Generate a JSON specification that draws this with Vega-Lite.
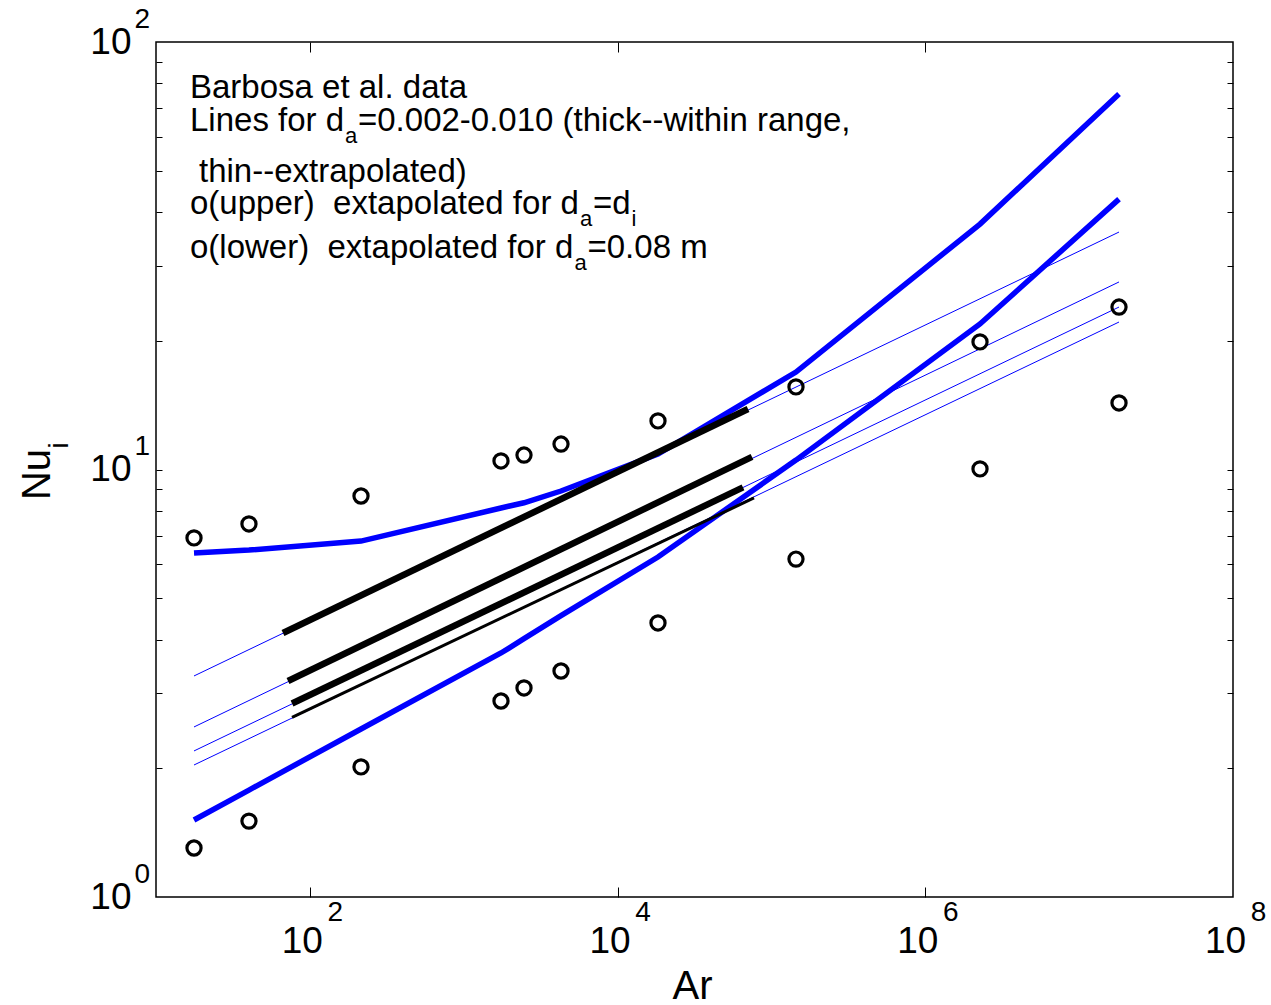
{
  "$schema": "https://vega.github.io/schema/vega-lite/v6.json",
  "width": 1077,
  "height": 855,
  "autosize": {"type": "none"},
  "padding": {"left": 156, "top": 42, "right": 38, "bottom": 108},
  "background": "white",
  "config": {
    "view": {"stroke": "black", "strokeWidth": 1.5},
    "axis": {
      "grid": false, "domain": false,
      "labelFont": "Liberation Sans", "titleFont": "Liberation Sans",
      "labelColor": "black", "titleColor": "black", "tickColor": "black",
      "titleFontWeight": "normal", "labelFlush": false, "labelOverlap": false
    },
    "text": {"font": "Liberation Sans", "color": "black"}
  },
  "datasets": {
    "points": [
      {"x": 17.66, "y": 6.917}, {"x": 17.66, "y": 1.302},
      {"x": 40.2, "y": 7.457}, {"x": 40.2, "y": 1.505},
      {"x": 215, "y": 8.67}, {"x": 215, "y": 2.015},
      {"x": 1747, "y": 10.47}, {"x": 1747, "y": 2.874},
      {"x": 2465, "y": 10.81}, {"x": 2465, "y": 3.083},
      {"x": 4289, "y": 11.47}, {"x": 4289, "y": 3.378},
      {"x": 18310, "y": 12.99}, {"x": 18310, "y": 4.375},
      {"x": 144400, "y": 15.6}, {"x": 144400, "y": 6.173},
      {"x": 2268000, "y": 19.88}, {"x": 2268000, "y": 10.03},
      {"x": 18160000, "y": 23.99}, {"x": 18160000, "y": 14.31}
    ],
    "thin": [
      {"s": "t1", "x": 17.66, "y": 3.289}, {"s": "t1", "x": 18160000, "y": 35.93},
      {"s": "t2", "x": 17.66, "y": 2.499}, {"s": "t2", "x": 18160000, "y": 27.46},
      {"s": "t3", "x": 17.66, "y": 2.196}, {"s": "t3", "x": 18160000, "y": 23.99},
      {"s": "t4", "x": 17.66, "y": 2.036}, {"s": "t4", "x": 18160000, "y": 22.13}
    ],
    "thickblue": [
      {"s": "upper", "x": 17.66, "y": 6.377}, {"s": "upper", "x": 40.2, "y": 6.48},
      {"s": "upper", "x": 215, "y": 6.8}, {"s": "upper", "x": 1747, "y": 8.128},
      {"s": "upper", "x": 2465, "y": 8.36}, {"s": "upper", "x": 4289, "y": 8.906},
      {"s": "upper", "x": 18310, "y": 10.87}, {"s": "upper", "x": 144400, "y": 16.9},
      {"s": "upper", "x": 2268000, "y": 37.5}, {"s": "upper", "x": 18160000, "y": 75.6},
      {"s": "lower", "x": 17.66, "y": 1.514}, {"s": "lower", "x": 40.2, "y": 1.779},
      {"s": "lower", "x": 215, "y": 2.472}, {"s": "lower", "x": 1747, "y": 3.722},
      {"s": "lower", "x": 2465, "y": 4.02}, {"s": "lower", "x": 4289, "y": 4.55},
      {"s": "lower", "x": 18310, "y": 6.24}, {"s": "lower", "x": 144400, "y": 10.52},
      {"s": "lower", "x": 2268000, "y": 21.9}, {"s": "lower", "x": 18160000, "y": 42.9}
    ],
    "blackthick": [
      {"s": "A", "x": 66.9, "y": 4.145}, {"s": "A", "x": 70440, "y": 13.85},
      {"s": "B", "x": 72.1, "y": 3.2}, {"s": "B", "x": 74750, "y": 10.7},
      {"s": "C", "x": 76.6, "y": 2.835}, {"s": "C", "x": 65350, "y": 9.08}
    ],
    "blackthin": [
      {"s": "D", "x": 76.6, "y": 2.63}, {"s": "D", "x": 77020, "y": 8.58}
    ],
    "notes": [
      {"t": "Barbosa et al. data", "x": 16.63, "y": 73.96},
      {"t": "Lines for d", "x": 16.63, "y": 61.9},
      {"t": "=0.002-0.010 (thick--within range,", "x": 205.5, "y": 61.9},
      {"t": "thin--extrapolated)", "x": 19.03, "y": 47.05},
      {"t": "o(upper)\u00a0 extapolated for d", "x": 16.63, "y": 39.6},
      {"t": "=d", "x": 6923, "y": 39.6},
      {"t": "o(lower)\u00a0 extapolated for d", "x": 16.63, "y": 31.23},
      {"t": "=0.08 m", "x": 6376, "y": 31.23}
    ],
    "subs": [
      {"t": "a", "x": 169.2, "y": 58.03},
      {"t": "a", "x": 5700, "y": 37.12},
      {"t": "i", "x": 12320, "y": 37.12},
      {"t": "a", "x": 5249, "y": 29.29}
    ]
  },
  "resolve": {"axis": {"x": "independent", "y": "independent"}},
  "layer": [
    {
      "data": {"name": "thin"},
      "mark": {"type": "line", "color": "#0000ff", "strokeWidth": 1},
      "encoding": {
        "x": {"field": "x", "type": "quantitative",
              "scale": {"type": "log", "domain": [10, 100000000], "nice": false},
              "axis": {"orient": "bottom", "values": [100, 10000, 1000000, 100000000],
                       "labelExpr": "'' + round(log(datum.value)/LN10)", "ticks": false,
                       "labelFontSize": 28, "labelPadding": 15, "labelBaseline": "middle",
                       "labelOffset": 25, "title": null}},
        "y": {"field": "y", "type": "quantitative",
              "scale": {"type": "log", "domain": [1, 100], "nice": false},
              "axis": {"orient": "left", "values": [1, 10, 100],
                       "labelExpr": "'' + round(log(datum.value)/LN10)", "ticks": false,
                       "labelFontSize": 28, "labelPadding": 22, "labelAlign": "left",
                       "labelBaseline": "middle", "labelOffset": -23,
                       "title": "i", "titleFontSize": 28, "titleX": -89, "titleY": 403,
                       "titleAngle": -90, "titleAlign": "center", "titleBaseline": "alphabetic"}},
        "detail": {"field": "s"}
      }
    },
    {
      "data": {"name": "thickblue"},
      "mark": {"type": "line", "color": "#0000ff", "strokeWidth": 5.5},
      "encoding": {
        "x": {"field": "x", "type": "quantitative",
              "scale": {"type": "log", "domain": [10, 100000000], "nice": false},
              "axis": {"orient": "bottom", "values": [100, 10000, 1000000],
                       "labels": false, "tickSize": -10, "title": null}},
        "y": {"field": "y", "type": "quantitative",
              "scale": {"type": "log", "domain": [1, 100], "nice": false},
              "axis": {"orient": "left",
                       "values": [2, 3, 4, 5, 6, 7, 8, 9, 10, 20, 30, 40, 50, 60, 70, 80, 90],
                       "labels": false, "tickSize": -6, "title": null}},
        "detail": {"field": "s"}
      }
    },
    {
      "data": {"name": "blackthick"},
      "mark": {"type": "line", "color": "black", "strokeWidth": 6.5},
      "encoding": {
        "x": {"field": "x", "type": "quantitative",
              "scale": {"type": "log", "domain": [10, 100000000], "nice": false},
              "axis": {"orient": "top", "values": [100, 10000, 1000000],
                       "labels": false, "tickSize": -10, "title": null}},
        "y": {"field": "y", "type": "quantitative",
              "scale": {"type": "log", "domain": [1, 100], "nice": false},
              "axis": {"orient": "right",
                       "values": [2, 3, 4, 5, 6, 7, 8, 9, 10, 20, 30, 40, 50, 60, 70, 80, 90],
                       "labels": false, "tickSize": -6, "title": null}},
        "detail": {"field": "s"}
      }
    },
    {
      "data": {"name": "blackthin"},
      "mark": {"type": "line", "color": "black", "strokeWidth": 3},
      "encoding": {
        "x": {"field": "x", "type": "quantitative",
              "scale": {"type": "log", "domain": [10, 100000000], "nice": false}, "axis": null},
        "y": {"field": "y", "type": "quantitative",
              "scale": {"type": "log", "domain": [1, 100], "nice": false}, "axis": null},
        "detail": {"field": "s"}
      }
    },
    {
      "data": {"name": "points"},
      "mark": {"type": "point", "shape": "circle", "filled": false, "stroke": "black",
               "strokeWidth": 3.2, "size": 200, "opacity": 1},
      "encoding": {
        "x": {"field": "x", "type": "quantitative",
              "scale": {"type": "log", "domain": [10, 100000000], "nice": false},
              "axis": {"orient": "bottom", "values": [100, 10000, 1000000, 100000000],
                       "labelExpr": "'10'", "ticks": false, "labelFontSize": 37,
                       "labelPadding": 44, "labelBaseline": "middle", "labelOffset": -8,
                       "title": "Ar", "titleFontSize": 40, "titleX": 536, "titleY": 101,
                       "titleAlign": "center", "titleBaseline": "alphabetic"}},
        "y": {"field": "y", "type": "quantitative",
              "scale": {"type": "log", "domain": [1, 100], "nice": false},
              "axis": {"orient": "left", "values": [1, 10, 100],
                       "labelExpr": "'10'", "ticks": false, "labelFontSize": 37,
                       "labelPadding": 25, "labelAlign": "right", "labelBaseline": "middle",
                       "title": "Nu", "titleFontSize": 40, "titleX": -107, "titleY": 432,
                       "titleAngle": -90, "titleAlign": "center", "titleBaseline": "alphabetic"}}
      }
    },
    {
      "data": {"name": "notes"},
      "mark": {"type": "text", "align": "left", "baseline": "alphabetic", "fontSize": 33},
      "encoding": {
        "x": {"field": "x", "type": "quantitative",
              "scale": {"type": "log", "domain": [10, 100000000], "nice": false}, "axis": null},
        "y": {"field": "y", "type": "quantitative",
              "scale": {"type": "log", "domain": [1, 100], "nice": false}, "axis": null},
        "text": {"field": "t"}
      }
    },
    {
      "data": {"name": "subs"},
      "mark": {"type": "text", "align": "left", "baseline": "alphabetic", "fontSize": 22},
      "encoding": {
        "x": {"field": "x", "type": "quantitative",
              "scale": {"type": "log", "domain": [10, 100000000], "nice": false}, "axis": null},
        "y": {"field": "y", "type": "quantitative",
              "scale": {"type": "log", "domain": [1, 100], "nice": false}, "axis": null},
        "text": {"field": "t"}
      }
    }
  ]
}
